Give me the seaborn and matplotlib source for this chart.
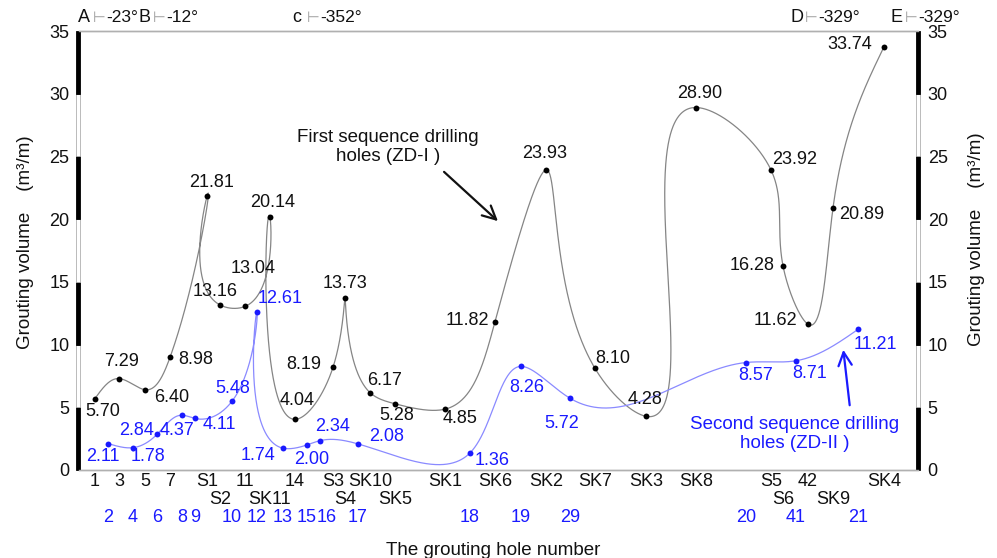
import numpy as np
import pandas as pd
import matplotlib
matplotlib.use("Agg")
import matplotlib.pyplot as plt
import matplotlib.transforms as mtrans
from matplotlib.patches import Rectangle
import seaborn as sns

# ---------------- data ----------------
# position of each hole along the profile (horizontal distance units)
first_pos = [16, 40, 66, 91, 128, 141, 166, 191, 216, 254, 266, 291, 316, 366,
             416, 467, 516, 567, 617, 692, 704, 729, 754, 805]
first_vals = [5.70, 7.29, 6.40, 8.98, 21.81, 13.16, 13.04, 20.14, 4.04, 8.19,
              13.73, 6.17, 5.28, 4.85, 11.82, 23.93, 8.10, 4.28, 28.90, 23.92,
              16.28, 11.62, 20.89, 33.74]
first_labels = ['1', '3', '5', '7', 'S1', 'S2', '11', 'SK11', '14', 'S3', 'S4',
                'SK10', 'SK5', 'SK1', 'SK6', 'SK2', 'SK7', 'SK3', 'SK8', 'S5',
                'S6', '42', 'SK9', 'SK4']
first_row = [0, 0, 0, 0, 0, 1, 0, 1, 0, 0, 1, 0, 1, 0, 0, 0, 0, 0, 0, 0, 1, 0, 1, 0]

second_pos = [29, 54, 78, 103, 116, 153, 178, 204, 228, 241, 279, 391, 442,
              491, 667, 717, 779]
second_vals = [2.11, 1.78, 2.84, 4.37, 4.11, 5.48, 12.61, 1.74, 2.00, 2.34,
               2.08, 1.36, 8.26, 5.72, 8.57, 8.71, 11.21]
second_labels = ['2', '4', '6', '8', '9', '10', '12', '13', '15', '16', '17',
                 '18', '19', '29', '20', '41', '21']

section_names = ['A', 'B', 'c', 'D', 'E']
section_angles = ['-23°', '-12°', '-352°', '-329°', '-329°']
section_pos = [-1, 59, 213, 711, 811]

y_ticks = [0, 5, 10, 15, 20, 25, 30, 35]

# ---------------- layout / style ----------------
first_off = [(8, 13), (3, -17), (27, 8), (26, 2), (5, -14), (-5, -13), (8, -38),
             (3, -15), (2, -19), (-29, -3), (0, -14), (15, -12), (2, 12), (15, 9),
             (-28, -1), (-1, -16), (18, -10), (-1, -17), (4, -14), (24, -10),
             (-31, 0), (-33, -4), (29, 7), (-34, -2)]
second_off = [(-5, 13), (15, 9), (-20, -4), (-5, 15), (24, 6), (1, -13), (23, -13),
              (-25, 7), (5, 15), (13, -14), (29, -7), (22, 8), (6, 21), (-8, 25),
              (10, 13), (14, 13), (17, 15)]
second_nudge = {'16': 7}

BLUE = '#1a1aff'
FS = 13

sns.set_theme(style='white')
plt.rcParams['font.family'] = ['Liberation Sans', 'DejaVu Sans']

W, H, DPI = 997, 558, 100
fig = plt.figure(figsize=(W / DPI, H / DPI), dpi=DPI)
ax = fig.add_axes([79 / W, 88 / H, 839 / W, 439 / H])
XMAX, YMAX = 839, 35
ax.set_xlim(0, XMAX)
ax.set_ylim(0, YMAX)
ypx = 439 / YMAX  # pixels per y unit (x units are pixels)


def nat_spline(t, v, tt):
    n = len(t)
    h = np.diff(t)
    A = np.zeros((n, n))
    b = np.zeros(n)
    A[0, 0] = 1
    A[-1, -1] = 1
    for i in range(1, n - 1):
        A[i, i - 1] = h[i - 1]
        A[i, i] = 2 * (h[i - 1] + h[i])
        A[i, i + 1] = h[i]
        b[i] = 3 * ((v[i + 1] - v[i]) / h[i] - (v[i] - v[i - 1]) / h[i - 1])
    c = np.linalg.solve(A, b)
    bb = (v[1:] - v[:-1]) / h - h * (2 * c[:-1] + c[1:]) / 3
    d = (c[1:] - c[:-1]) / (3 * h)
    idx = np.clip(np.searchsorted(t, tt, side='right') - 1, 0, n - 2)
    dt = tt - t[idx]
    return v[idx] + bb[idx] * dt + c[idx] * dt ** 2 + d[idx] * dt ** 3


def smooth_curve(xs, ys):
    px = np.asarray(xs, float)
    py = np.asarray(ys, float) * ypx
    seg = np.hypot(np.diff(px), np.diff(py))
    t = np.concatenate([[0], np.cumsum(seg)])
    tt = np.linspace(0, t[-1], 3000)
    sx = nat_spline(t, px, tt)
    sy = nat_spline(t, py, tt) / ypx
    return pd.DataFrame({'x': sx, 'y': sy})


c1 = smooth_curve(first_pos, first_vals)
c2 = smooth_curve(second_pos, second_vals)
sns.lineplot(data=c1, x='x', y='y', sort=False, estimator=None, color='#858585',
             lw=0.9, ax=ax)
sns.lineplot(data=c2, x='x', y='y', sort=False, estimator=None, color='#8a8aff',
             lw=0.9, ax=ax)

df1 = pd.DataFrame({'pos': first_pos, 'val': first_vals})
df2 = pd.DataFrame({'pos': second_pos, 'val': second_vals})
sns.scatterplot(data=df1, x='pos', y='val', color='black', s=18, linewidth=0,
                ax=ax, zorder=5)
sns.scatterplot(data=df2, x='pos', y='val', color=BLUE, s=18, linewidth=0,
                ax=ax, zorder=5)

for x, v, (dx, dy) in zip(first_pos, first_vals, first_off):
    ax.annotate(f'{v:.2f}', (x, v), xytext=(dx, -dy), textcoords='offset pixels',
                ha='center', va='center', fontsize=FS, color='#111111')
for x, v, (dx, dy) in zip(second_pos, second_vals, second_off):
    ax.annotate(f'{v:.2f}', (x, v), xytext=(dx, -dy), textcoords='offset pixels',
                ha='center', va='center', fontsize=FS, color=BLUE)

# x tick labels: first row as real ticks, others as extra rows
row0 = [(p, l) for p, l, r in zip(first_pos, first_labels, first_row) if r == 0]
ax.set_xticks([p for p, _ in row0])
ax.set_xticklabels([l for _, l in row0], fontsize=FS, color='#111111')
ax.tick_params(axis='x', length=0, pad=2)
bt = mtrans.blended_transform_factory(ax.transData, ax.transAxes)
for p, l, r in zip(first_pos, first_labels, first_row):
    if r == 1:
        ax.annotate(l, (p, 0), xycoords=bt, xytext=(0, -30), textcoords='offset pixels',
                    ha='center', va='center', fontsize=FS, color='#111111',
                    annotation_clip=False)
for p, l in zip(second_pos, second_labels):
    ax.annotate(l, (p, 0), xycoords=bt, xytext=(second_nudge.get(l, 0), -47),
                textcoords='offset pixels', ha='center', va='center',
                fontsize=FS, color=BLUE, annotation_clip=False)

# y axis
ax.set_yticks(y_ticks)
ax.set_yticklabels([str(t) for t in y_ticks], fontsize=FS, color='#111111')
ax.tick_params(axis='y', length=0, pad=7)
ax2 = ax.twinx()
ax2.set_ylim(0, YMAX)
ax2.set_yticks(y_ticks)
ax2.set_yticklabels([str(t) for t in y_ticks], fontsize=FS, color='#111111')
ax2.tick_params(axis='y', length=0, pad=7)

for a in (ax, ax2):
    for s in ('left', 'right'):
        a.spines[s].set_visible(False)
    for s in ('top', 'bottom'):
        a.spines[s].set_color('#b0b0b0')
        a.spines[s].set_linewidth(1.0)

# scale bars on both y axes
for x0 in (-3, XMAX - 2):
    for k in range(7):
        lo = k * 5
        black = (k % 2 == 0)
        ax.add_patch(Rectangle((x0, lo), 4, 5, transform=ax.transData,
                               facecolor='black' if black else 'white',
                               edgecolor='black' if black else '#b0b0b0',
                               lw=0.6, clip_on=False, zorder=6))

ylab = 'Grouting volume    (m³/m)'
ax.set_ylabel(ylab, fontsize=FS + 0.5, color='#111111')
ax.yaxis.set_label_coords(-0.054, 0.52)
ax2.set_ylabel(ylab, fontsize=FS + 0.5, color='#111111')
ax2.yaxis.set_label_coords(1.06, 0.525)
ax.set_xlabel('The grouting hole number', fontsize=FS + 0.5, color='#111111')
ax.xaxis.set_label_coords(0.494, -0.165)

# section markers on top
for p, n, a_ in zip(section_pos, section_names, section_angles):
    ax.annotate(n, (p, 1), xycoords=bt, xytext=(0, 14), textcoords='offset pixels',
                ha='left', va='center', fontsize=FS, color='#111111',
                annotation_clip=False)
    ax.annotate('⊢', (p, 1), xycoords=bt, xytext=(15, 14), textcoords='offset pixels',
                ha='left', va='center', fontsize=10.5, color='#999999',
                family=['DejaVu Sans'], annotation_clip=False)
    ax.annotate(a_, (p, 1), xycoords=bt, xytext=(28, 14), textcoords='offset pixels',
                ha='left', va='center', fontsize=FS - 0.5, color='#111111',
                annotation_clip=False)

# sequence annotations
ax.annotate('', xy=(421, (470 - 223) / ypx), xytext=(363, (470 - 170) / ypx),
            arrowprops=dict(arrowstyle='->,head_length=0.8,head_width=0.4',
                            color='#111111', lw=1.6))
ax.text(309, (470 - 147) / ypx, 'First sequence drilling\nholes (ZD-I )',
        ha='center', va='center', fontsize=FS + 0.5, color='#111111',
        linespacing=1.1)
ax.annotate('', xy=(764, (470 - 347) / ypx), xytext=(771, (470 - 408) / ypx),
            arrowprops=dict(arrowstyle='->,head_length=0.8,head_width=0.4',
                            color=BLUE, lw=1.6))
ax.text(716, (470 - 434) / ypx, 'Second sequence drilling\nholes (ZD-II )',
        ha='center', va='center', fontsize=FS + 0.5, color=BLUE,
        linespacing=1.15)

fig.savefig('out.png', dpi=DPI)
